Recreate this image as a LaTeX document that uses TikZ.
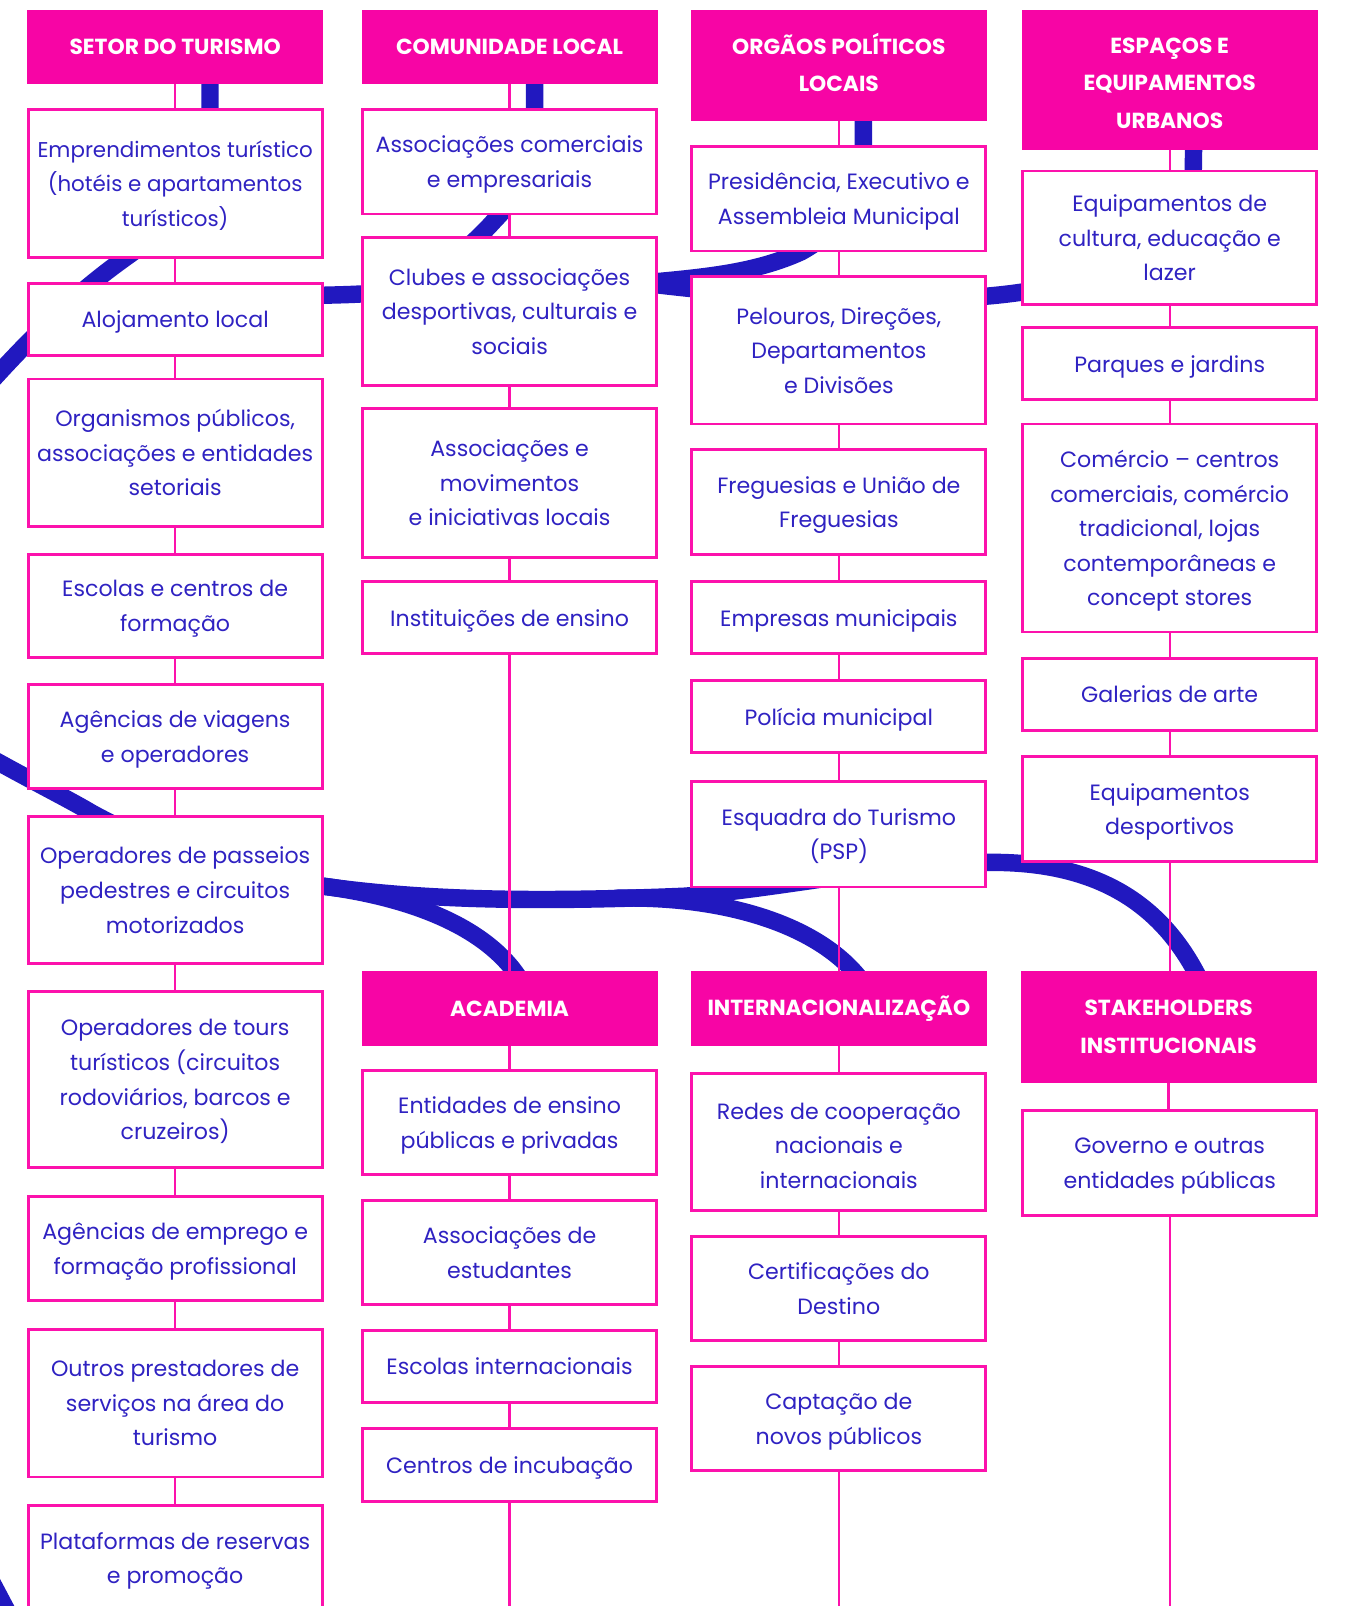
\documentclass[tikz,border=0pt]{standalone}
\usepackage{fontspec}
\setmainfont{Poppins}
\definecolor{pk}{HTML}{F705A5}
\definecolor{pkline}{HTML}{FC12AC}
\definecolor{tb}{HTML}{2F22C2}
\definecolor{bb}{HTML}{2118BF}
\pgfdeclarelayer{bg}
\pgfdeclarelayer{mid}
\pgfsetlayers{bg,mid,main}
\begin{document}
\begin{tikzpicture}[x=1pt,y=-1pt,
 bx/.style={draw=pkline, line width=2.8pt, fill=white, text=tb, align=center, inner sep=0pt,
   font=\fontsize{21.6}{33.7}\selectfont, minimum width=287pt, text depth=0pt},
 hd/.style={fill=pk, draw=none, text=white, align=center, inner sep=0pt,
   font=\bfseries\fontsize{21.3}{36.5}\selectfont, minimum width=289pt},
 conn/.style={draw=pkline, line width=2.3pt},
 band/.style={draw=bb, line width=17pt}]
\useasboundingbox (0,0) rectangle (1313,1568);

% column 1
\node[hd, minimum height=72pt] (h1) at (171,46) {SETOR DO TURISMO};
\node[bx, minimum height=144pt, font=\fontsize{20.9}{33.7}\selectfont] (a1) at (171,179) {Emprendimentos turístico\\(hotéis e apartamentos\\turísticos)};
\node[bx, minimum height=70pt] (a2) at (171,312) {Alojamento local};
\node[bx, minimum height=144pt] (a3) at (171,442) {Organismos públicos,\\associações e entidades\\setoriais};
\node[bx, minimum height=101pt] (a4) at (171,591.5) {Escolas e centros de\\formação};
\node[bx, minimum height=102pt] (a5) at (171,719) {Agências de viagens\\e operadores};
\node[bx, minimum height=144pt] (a6) at (171,869) {Operadores de passeios\\pedestres e circuitos\\motorizados};
\node[bx, minimum height=172pt] (a7) at (171,1054) {Operadores de tours\\turísticos (circuitos\\rodoviários, barcos e\\cruzeiros)};
\node[bx, minimum height=102pt] (a8) at (171,1219) {Agências de emprego e\\formação profissional};
\node[bx, minimum height=144pt] (a9) at (171,1370) {Outros prestadores de\\serviços na área do\\turismo};
\node[bx, minimum height=102pt] (a10) at (171,1521) {Plataformas de reservas\\e promoção};

% column 2
\node[hd, minimum height=72pt] (h2) at (497.5,46) {COMUNIDADE LOCAL};
\node[bx, minimum height=102pt] (b1) at (497.5,158) {Associações comerciais\\e empresariais};
\node[bx, minimum height=144pt] (b2) at (497.5,304) {Clubes e associações\\desportivas, culturais e\\sociais};
\node[bx, minimum height=145pt] (b3) at (497.5,471.5) {Associações e\\movimentos\\e iniciativas locais};
\node[bx, minimum height=70pt] (b4) at (497.5,603) {Instituições de ensino};
\node[hd, minimum height=73pt] (h5) at (497.5,984.5) {ACADEMIA};
\node[bx, minimum height=102pt] (b5) at (497.5,1096) {Entidades de ensino\\públicas e privadas};
\node[bx, minimum height=102pt] (b6) at (497.5,1223) {Associações de\\estudantes};
\node[bx, minimum height=70pt] (b7) at (497.5,1334) {Escolas internacionais};
\node[bx, minimum height=71pt] (b8) at (497.5,1430.5) {Centros de incubação};
\coordinate (b-end) at (497.5,1580);

% column 3
\node[hd, minimum height=108pt, text depth=6pt] (h3) at (819,64) {ORGÃOS POLÍTICOS\\LOCAIS};
\node[bx, minimum height=102pt] (c1) at (819,194) {Presidência, Executivo e\\Assembleia Municipal};
\node[bx, minimum height=144pt] (c2) at (819,342) {Pelouros, Direções,\\Departamentos\\e Divisões};
\node[bx, minimum height=102pt] (c3) at (819,490) {Freguesias e União de\\Freguesias};
\node[bx, minimum height=70pt] (c4) at (819,603) {Empresas municipais};
\node[bx, minimum height=71pt] (c5) at (819,699.5) {Polícia municipal};
\node[bx, minimum height=103pt] (c6) at (819,814.5) {Esquadra do Turismo\\(PSP)};
\node[hd, minimum height=73pt] (h6) at (819,984.5) {INTERNACIONALIZAÇÃO};
\node[bx, minimum height=134pt, text height=90pt] (c7) at (819,1115) {Redes de cooperação\\nacionais e\\internacionais};
\node[bx, minimum height=102pt] (c8) at (819,1258) {Certificações do\\Destino};
\node[bx, minimum height=102pt] (c9) at (819,1385) {Captação de\\novos públicos};
\coordinate (c-end) at (819,1580);

% column 4
\node[hd, minimum height=136pt, text height=94pt, text depth=0pt] (h4) at (1142,78) {ESPAÇOS E\\EQUIPAMENTOS\\URBANOS};
\node[bx, minimum height=130pt] (d1) at (1142,232) {Equipamentos de\\cultura, educação e\\lazer};
\node[bx, minimum height=70pt] (d2) at (1142,355) {Parques e jardins};
\node[bx, minimum height=203pt] (d3) at (1142,515.5) {Comércio – centros\\comerciais, comércio\\tradicional, lojas\\contemporâneas e\\concept stores};
\node[bx, minimum height=70pt] (d4) at (1142,678) {Galerias de arte};
\node[bx, minimum height=102pt] (d5) at (1142,790) {Equipamentos\\desportivos};
\node[hd, minimum height=109pt] (h7) at (1141,1002.5) {STAKEHOLDERS\\INSTITUCIONAIS};
\node[bx, minimum height=103pt] (d6) at (1142,1135.5) {Governo e outras\\entidades públicas};
\coordinate (d-end) at (1142,1580);

\begin{pgfonlayer}{mid}
\foreach \u/\v in {h1/a1,a1/a2,a2/a3,a3/a4,a4/a5,a5/a6,a6/a7,a7/a8,a8/a9,a9/a10,
  h2/b1,b1/b2,b2/b3,b3/b4,b4/h5,h5/b5,b5/b6,b6/b7,b7/b8,b8/b-end,
  h3/c1,c1/c2,c2/c3,c3/c4,c4/c5,c5/c6,c6/h6,h6/c7,c7/c8,c8/c9,c9/c-end,
  h4/d1,d1/d2,d2/d3,d3/d4,d4/d5,d5/h7,h7/d6,d6/d-end}
  \draw[conn] (\u.south) -- (\u.south |- \v.north);
\end{pgfonlayer}

\begin{pgfonlayer}{bg}
\fill[white] (0,0) rectangle (1313,1568);
\draw[band] (205,50) -- (205,110) .. controls (205,185) and (170,218) .. (122,252)
  .. controls (80,282) and (40,318) .. (-20,385);
\draw[band] (522,50) -- (522,115) .. controls (522,170) and (505,192) .. (482,216)
  .. controls (455,246) and (410,284) .. (353,287)
  .. controls (300,290) and (140,288) .. (58,305);
\draw[band] (843,80) -- (843,150) .. controls (843,195) and (820,225) .. (782,246)
  .. controls (740,265) and (695,270) .. (641,275)
  .. controls (560,281) and (470,286) .. (380,287);
\draw[band] (1166,100) -- (1165,168) .. controls (1160,240) and (1080,278) .. (999,285)
  .. controls (900,300) and (740,290) .. (641,278)
  .. controls (580,271) and (520,275) .. (460,280);
\draw[band] (-40,723) -- (0,745) .. controls (40,767) and (70,782) .. (90,794)
  .. controls (160,832) and (240,858) .. (314,865)
  .. controls (400,877) and (500,882) .. (668,875)
  .. controls (760,868) and (880,842) .. (962,842)
  .. controls (1080,840) and (1140,890) .. (1174,962);
\draw[band] (314,865) .. controls (400,876) and (478,905) .. (510,960);
\draw[band] (600,877) .. controls (700,874) and (800,900) .. (843,960);
\draw[band] (-21,1520) -- (16,1590);
\end{pgfonlayer}
\end{tikzpicture}
\end{document}
